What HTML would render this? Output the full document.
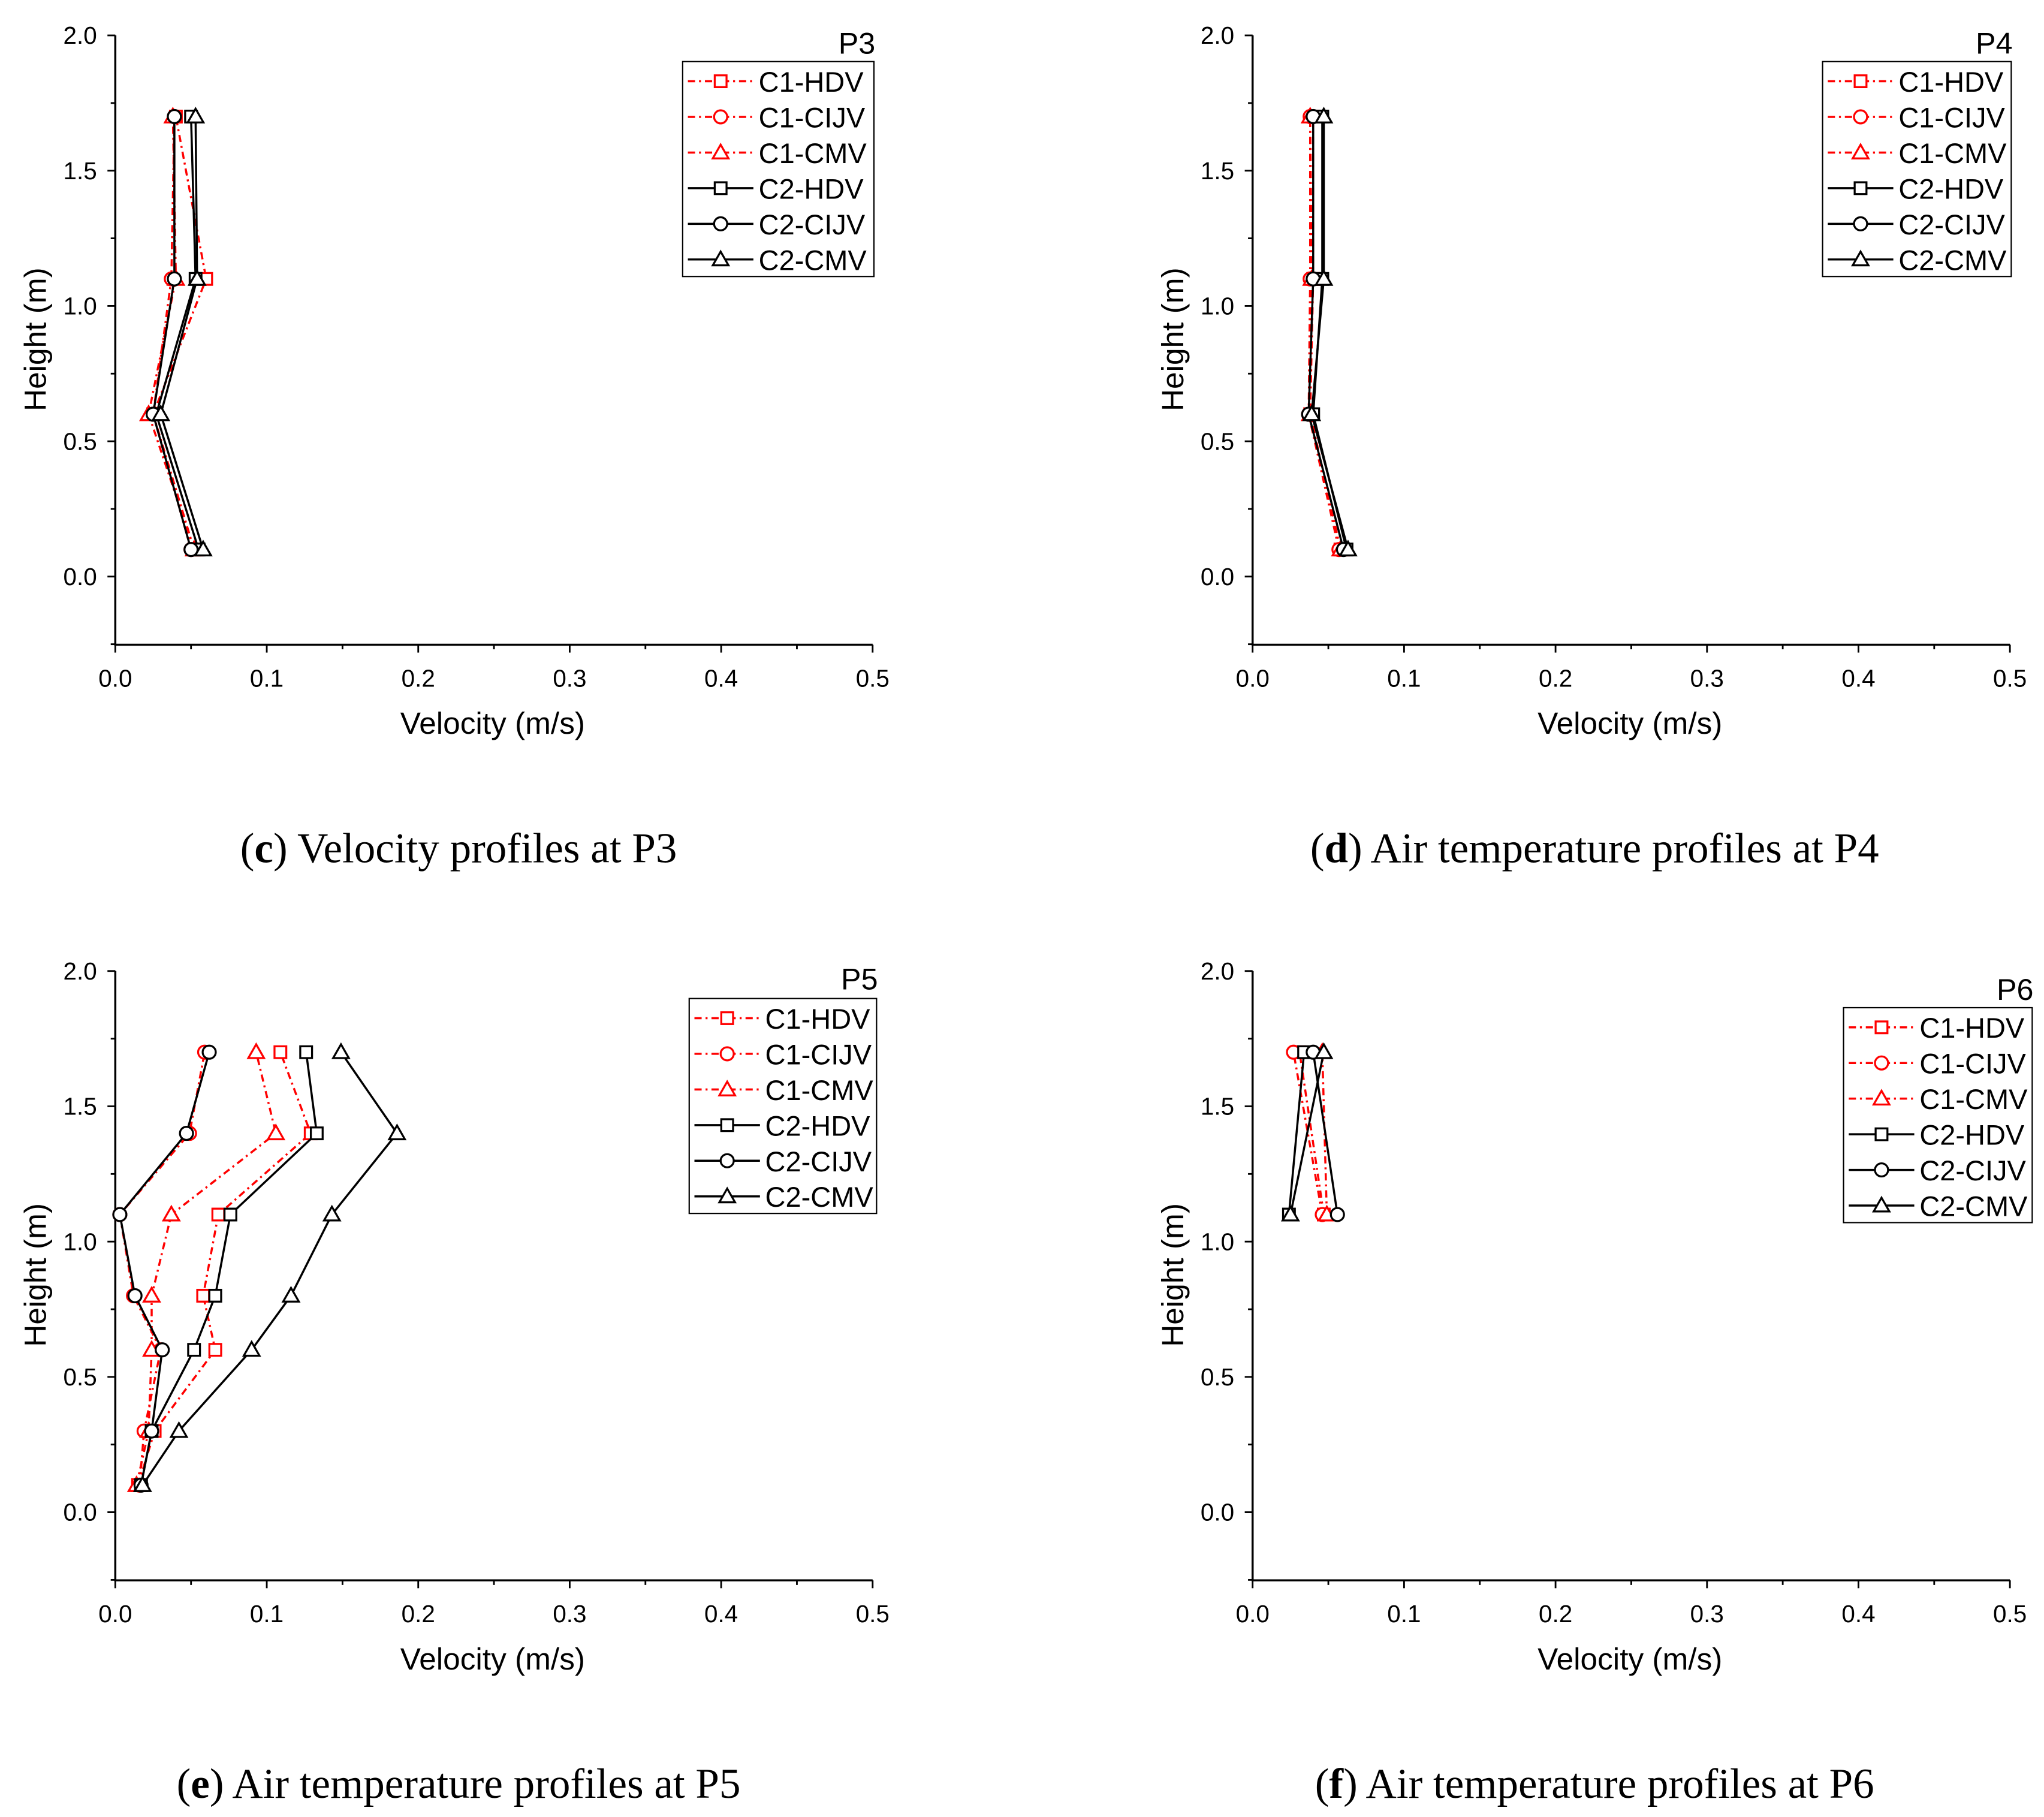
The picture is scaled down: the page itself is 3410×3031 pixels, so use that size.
<!DOCTYPE html>
<html><head><meta charset="utf-8"><style>
html,body{margin:0;padding:0;background:#fff}
svg{display:block}
text{font-family:"Liberation Sans",sans-serif;fill:#000}
.cap{font-family:"Liberation Serif",serif;font-size:32.5px}
</style></head><body>
<svg id="fig" width="3410" height="3031" viewBox="0 0 1560 1386.6" preserveAspectRatio="none" xmlns="http://www.w3.org/2000/svg">
<text class="cap" x="350" y="658" text-anchor="middle">(<tspan font-weight="bold">c</tspan>) Velocity profiles at P3</text>
<text class="cap" x="1217" y="658" text-anchor="middle">(<tspan font-weight="bold">d</tspan>) Air temperature profiles at P4</text>
<text class="cap" x="350" y="1372" text-anchor="middle">(<tspan font-weight="bold">e</tspan>) Air temperature profiles at P5</text>
<text class="cap" x="1217" y="1372" text-anchor="middle">(<tspan font-weight="bold">f</tspan>) Air temperature profiles at P6</text>
</svg>
<script>
const seriesNames = ["C1-HDV","C1-CIJV","C1-CMV","C2-HDV","C2-CIJV","C2-CMV"];
const xTicks = [0,0.1,0.2,0.3,0.4,0.5];
const yTicks = [0,0.5,1.0,1.5,2.0];
const p3Heights = [0.1,0.6,1.1,1.7];
const p3Values = [
 [0.052,0.025,0.060,0.040],
 [0.050,0.025,0.037,0.039],
 [0.052,0.022,0.040,0.038],
 [0.055,0.027,0.053,0.050],
 [0.050,0.025,0.039,0.039],
 [0.058,0.030,0.054,0.053]];
const p4Heights = [0.1,0.6,1.1,1.7];
const p4Values = [
 [0.058,0.038,0.040,0.040],
 [0.057,0.037,0.038,0.038],
 [0.058,0.038,0.039,0.038],
 [0.062,0.040,0.046,0.046],
 [0.060,0.037,0.040,0.040],
 [0.063,0.039,0.047,0.047]];
const p5Heights = [0.1,0.3,0.6,0.8,1.1,1.4,1.7];
const p5Values = [
 [0.015,0.026,0.066,0.058,0.068,0.129,0.109],
 [0.016,0.019,0.030,0.012,0.003,0.049,0.059],
 [0.014,0.022,0.024,0.024,0.037,0.106,0.093],
 [0.017,0.024,0.052,0.066,0.076,0.133,0.126],
 [0.017,0.024,0.031,0.013,0.003,0.047,0.062],
 [0.018,0.042,0.090,0.116,0.143,0.186,0.149]];
const p6Heights = [1.1,1.7];
const p6Values = [
 [0.047,0.031],
 [0.046,0.027],
 [0.049,0.046],
 [0.024,0.034],
 [0.056,0.040],
 [0.025,0.047]];

const NS="http://www.w3.org/2000/svg";
const svg=document.getElementById('fig');
function mk(tag,attrs,parent){const e=document.createElementNS(NS,tag);for(const k in attrs)e.setAttribute(k,attrs[k]);(parent||svg).appendChild(e);return e;}

function marker(g,shape,cx,cy,color){
  let e;
  if(shape===0){e=mk('rect',{x:cx-4.5,y:cy-4.5,width:9,height:9,fill:'#fff',stroke:color,'stroke-width':1.5},g);}
  else if(shape===1){e=mk('circle',{cx:cx,cy:cy,r:5,fill:'#fff',stroke:color,'stroke-width':1.5},g);}
  else {e=mk('polygon',{points:`${cx},${cy-6} ${cx-6},${cy+4.5} ${cx+6},${cy+4.5}`,fill:'#fff',stroke:color,'stroke-width':1.5},g);}
  return e;
}

function panel(id,ox,oy,label,heights,values,leg,titleY){
  const x0=ox,x1=ox+578,yTop=oy,y0=oy+413,yBot=oy+465;
  const X=v=>x0+(v/0.5)*(x1-x0);
  const Y=v=>y0-(v/2)*(y0-yTop);
  const g=mk('g',{});
  
  
  const ax=mk('path',{d:`M${x0},${Y(2)} V${yBot} H${x1}`,fill:'none',stroke:'#000','stroke-width':1.6},g);
  
  
  for(let v=-0.25;v<=2.001;v+=0.25){
    const major=Math.abs(v*2-Math.round(v*2))<1e-6 && v>=0;
    mk('line',{x1:x0-(major?6:3.5),x2:x0,y1:Y(v),y2:Y(v),stroke:'#000','stroke-width':1.3},g);
  }
  yTicks.forEach(v=>{const t=mk('text',{x:x0-14,y:Y(v)+6.5,'text-anchor':'end','font-size':18.5},g);t.textContent=v.toFixed(1);
    
    });
  for(let i=0;i<=10;i++){const v=i*0.05;const major=i%2===0;
    mk('line',{x1:X(v),x2:X(v),y1:yBot,y2:yBot+(major?6:3.5),stroke:'#000','stroke-width':1.3},g);}
  xTicks.forEach(v=>{const t=mk('text',{x:X(v),y:yBot+32,'text-anchor':'middle','font-size':18.5},g);t.textContent=v.toFixed(1);
    
    });
  const xt=mk('text',{x:(x0+x1)/2-1,y:yBot+68,'text-anchor':'middle','font-size':23.5},g);xt.textContent='Velocity (m/s)';
  
  
  const ytx=ox-53, yty=oy+232;
  const yt=mk('text',{x:ytx,y:yty,'text-anchor':'middle','font-size':23.5,transform:`rotate(-90 ${ytx} ${yty})`},g);yt.textContent='Height (m)';
  
  
  const pt=mk('text',{x:leg[0]+leg[2]+1,y:titleY,'text-anchor':'end','font-size':23},g);pt.textContent=label;
  
  
  values.forEach((vals,si)=>{
    const color=si<3?'#ff0000':'#000';
    const sg=mk('g',{},g);
    
    
    const pts=vals.map((v,i)=>X(v)+','+Y(heights[i])).join(' ');
    const attrs={points:pts,fill:'none',stroke:color,'stroke-width':1.6};
    if(si<3)attrs['stroke-dasharray']='5.5 3 1.5 3';
    mk('polyline',attrs,sg);
    vals.forEach((v,i)=>{const m=marker(sg,si%3,X(v),Y(heights[i]),color);
      
      });
  });
  const [lx,ly,lw,lh]=leg;
  const lg=mk('g',{},g);
  
  
  mk('rect',{x:lx,y:ly,width:lw,height:lh,fill:'#fff',stroke:'#000','stroke-width':1},lg);
  seriesNames.forEach((n,si)=>{
    const color=si<3?'#ff0000':'#000';
    const ey=ly+15+si*27.2;
    const attrs={x1:lx+4,x2:lx+54,y1:ey,y2:ey,stroke:color,'stroke-width':1.6};
    if(si<3)attrs['stroke-dasharray']='5.5 3 1.5 3';
    mk('line',attrs,lg);
    marker(lg,si%3,lx+29,ey,color);
    const t=mk('text',{x:lx+58,y:ey+8,'font-size':21.5},lg);t.textContent=n;
    
    
  });
}
panel('p3',88,27,'P3',p3Heights,p3Values,[521,47,146,164],41);
panel('p4',956,27,'P4',p4Heights,p4Values,[1391,47,144,164],41);
panel('p5',88,741,'P5',p5Heights,p5Values,[526,762,143,164],755);
panel('p6',956,741,'P6',p6Heights,p6Values,[1407,769,144,164],763);
</script>
</body></html>
